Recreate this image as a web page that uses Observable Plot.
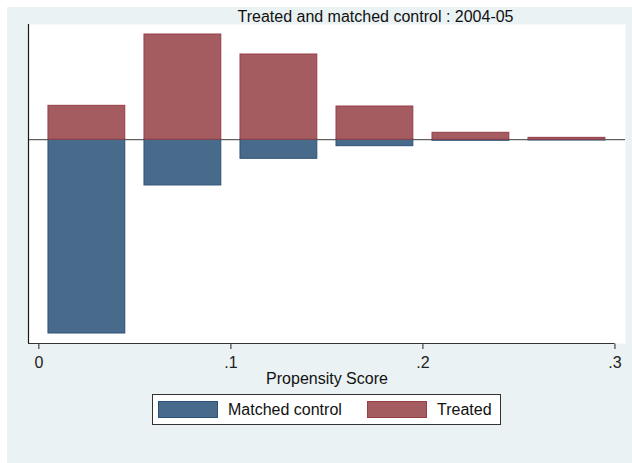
<!DOCTYPE html>
<html><head><meta charset="utf-8">
<script src="https://cdn.jsdelivr.net/npm/d3@7"></script>
<script src="https://cdn.jsdelivr.net/npm/@observablehq/plot@0.6"></script>
<style>
body{margin:0;background:#fff;}
#wrap{position:relative;width:632px;height:463px;overflow:hidden;font-family:"Liberation Sans",Arial,Helvetica,sans-serif;}
#bg{position:absolute;left:7px;top:7px;right:0;bottom:0;background:#EAF2F3;}
#chart{position:absolute;left:0;top:0;}
#legend{position:absolute;left:152px;top:394px;width:347px;height:29px;border:1px solid #333;background:#fff;}
.sw{position:absolute;top:6px;width:58px;height:15px;border:1px solid;}
.lt{position:absolute;top:7px;font-size:16px;line-height:16px;color:#111;white-space:nowrap;}
</style></head>
<body>
<div id="wrap"><div id="bg"></div><div id="chart"></div><div id="legend"></div></div>
<script>
const title = "Treated and matched control : 2004-05";
const xLabel = "Propensity Score";
const seriesNames = ["Matched control", "Treated"];
const binCenters = [0.025, 0.075, 0.125, 0.175, 0.225, 0.275];
const treated = [0.1274, 0.3955, 0.3203, 0.1248, 0.026, 0.007];
const matched = [0.7286, 0.172, 0.0718, 0.0244, 0.004, 0.003];
const xTicks = [0, 0.1, 0.2, 0.3];
const xTickLabels = ["0", ".1", ".2", ".3"];

const fills = ["#486A8B", "#A55C60"];
const strokes = ["#2C5078", "#963F47"];
const barHalf = 0.02;
const xDomain = [-0.0054, 0.3055];
const yDomain = [-0.7662, 0.4331];

const data = binCenters.map((c, i) => ({c, treated: treated[i], matched: matched[i]}));

const chart = Plot.plot({
  width: 632, height: 463,
  marginTop: 24, marginLeft: 28, marginRight: 7, marginBottom: 120,
  style: {background: "transparent", fontFamily: '"Liberation Sans",Arial,Helvetica,sans-serif', fontSize: "16px", color: "#222"},
  x: {domain: xDomain, ticks: xTicks, tickFormat: d => xTickLabels[xTicks.indexOf(d)] ?? "", tickSize: 6, tickPadding: 7, label: null},
  y: {domain: yDomain, axis: null},
  marks: [
    Plot.frame({fill: "white", stroke: null}),
    Plot.ruleY([0], {stroke: "#3a3a3a", strokeWidth: 1}),
    Plot.rect(data, {x1: d => d.c - barHalf, x2: d => d.c + barHalf, y1: 0, y2: d => -d.matched, fill: fills[0], stroke: strokes[0], strokeWidth: 1}),
    Plot.rect(data, {x1: d => d.c - barHalf, x2: d => d.c + barHalf, y1: 0, y2: d => d.treated, fill: fills[1], stroke: strokes[1], strokeWidth: 1}),
    Plot.ruleX([xDomain[0]], {stroke: "#1a1a1a", strokeWidth: 1.2}),
    Plot.ruleY([yDomain[0]], {x1: xDomain[0], x2: 0.3, stroke: "#333", strokeWidth: 1.2}),
    Plot.text([title], {text: d => d, frameAnchor: "top", dx: 48.5, dy: -8, lineAnchor: "middle", fontSize: 16, fill: "#111"}),
    Plot.text([xLabel], {text: d => d, frameAnchor: "bottom", dy: 35, lineAnchor: "middle", fontSize: 16, fill: "#111"})
  ]
});
document.getElementById("chart").appendChild(chart);

const legend = document.getElementById("legend");
const swLeft = [5, 214], txtLeft = [75, 284];
seriesNames.forEach((name, i) => {
  const sw = document.createElement("div");
  sw.className = "sw";
  sw.style.left = swLeft[i] + "px";
  sw.style.background = fills[i];
  sw.style.borderColor = strokes[i];
  legend.appendChild(sw);
  const t = document.createElement("div");
  t.className = "lt";
  t.style.left = txtLeft[i] + "px";
  t.textContent = name;
  legend.appendChild(t);
});
</script>
</body></html>
